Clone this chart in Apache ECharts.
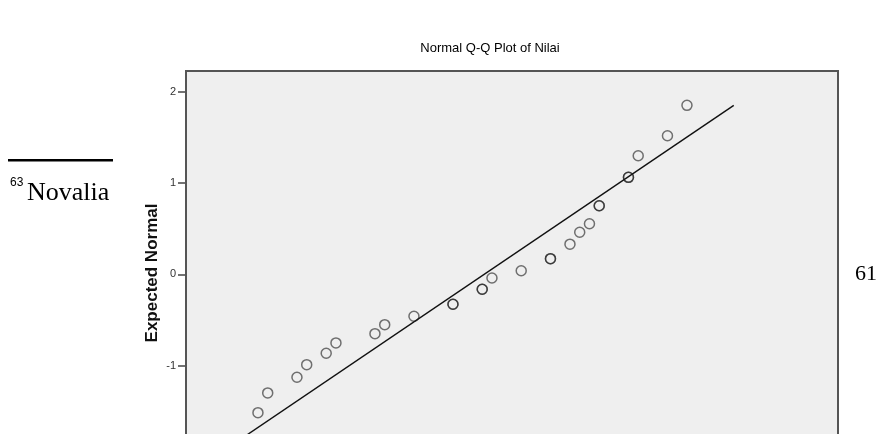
<!DOCTYPE html>
<html>
<head>
<meta charset="utf-8">
<script src="https://cdn.jsdelivr.net/npm/echarts@6/dist/echarts.min.js"></script>
<style>
html,body{margin:0;padding:0;background:#fff;}
#chart{width:881px;height:434px;}
</style>
</head>
<body>
<div id="chart"></div>
<script>
// Observed values (Nilai) and expected normal values
var observed = [50, 51, 54, 55, 57, 58, 62, 63, 66, 70, 70, 73, 73, 74, 77, 80, 80, 82, 83, 84, 85, 85, 88, 88, 89, 92, 94];
var expected = [-1.516, -1.300, -1.128, -0.990, -0.865, -0.752, -0.651, -0.552, -0.460, -0.329, -0.329, -0.164, -0.164, -0.041, 0.039, 0.171, 0.171, 0.330, 0.460, 0.554, 0.751, 0.751, 1.062, 1.062, 1.299, 1.518, 1.851];
var lineX = [45, 98.8];
var lineY = [-2.04, 1.85];
var yTicks = [-1, 0, 1, 2];

var chart = echarts.init(document.getElementById('chart'));
var pts = observed.map(function (v, i) { return [v, expected[i]]; });
var linePts = lineX.map(function (v, i) { return [v, lineY[i]]; });

chart.setOption({
  animation: false,
  backgroundColor: '#ffffff',
  title: {
    text: 'Normal Q-Q Plot of Nilai',
    left: 485, top: 37, textAlign: 'center',
    textStyle: { fontFamily: 'Liberation Sans, Arial', fontSize: 13, fontWeight: 'normal', color: '#000' }
  },
  grid: {
    left: 186, right: 43, top: 71, bottom: 0,
    show: true, backgroundColor: '#efefef', borderWidth: 0
  },
  xAxis: {
    type: 'value', min: 42.62, max: 109.49,
    axisLine: { show: false }, axisTick: { show: false }, splitLine: { show: false },
    axisLabel: { show: false }
  },
  yAxis: {
    type: 'value', min: -1.75, max: 2.227,
    axisLine: { show: false },
    axisTick: { show: true, length: 8, customValues: yTicks, lineStyle: { color: '#444', width: 1.5 } },
    axisLabel: { customValues: yTicks, margin: 10, fontFamily: 'Liberation Sans, Arial', fontSize: 11, color: '#333' },
    splitLine: { show: false }
  },
  graphic: [
    { type: 'polyline', shape: { points: [[186, 440], [186, 71], [838, 71], [838, 440]] },
      style: { stroke: '#555', lineWidth: 2, fill: null }, z: 10 },
    { type: 'text', x: 152, y: 273, rotation: Math.PI / 2,
      style: { text: 'Expected Normal', font: 'bold 17px "Liberation Sans", Arial', fill: '#111', align: 'center', verticalAlign: 'middle' } },
    { type: 'rect', shape: { x: 8, y: 159, width: 105, height: 2.5 }, style: { fill: '#000' } },
    { type: 'text', x: 10, y: 183, style: { text: '63', font: '12px "Liberation Sans", Arial', fill: '#000', verticalAlign: 'middle' } },
    { type: 'text', x: 27, y: 193, style: { text: 'Novalia', font: '26px "Liberation Serif", "Times New Roman"', fill: '#000', verticalAlign: 'middle' } },
    { type: 'text', x: 855, y: 274, style: { text: '61', font: '22px "Liberation Serif", "Times New Roman"', fill: '#000', verticalAlign: 'middle' } }
  ],
  series: [
    {
      type: 'line', data: linePts, showSymbol: false, silent: true,
      lineStyle: { color: '#111', width: 1.4 }, z: 2
    },
    {
      type: 'scatter', data: pts, symbol: 'circle', symbolSize: 10,
      itemStyle: { color: 'rgba(0,0,0,0)', borderColor: 'rgba(25,25,25,0.75)', borderWidth: 1.5 }, z: 3
    }
  ]
});
</script>
</body>
</html>
